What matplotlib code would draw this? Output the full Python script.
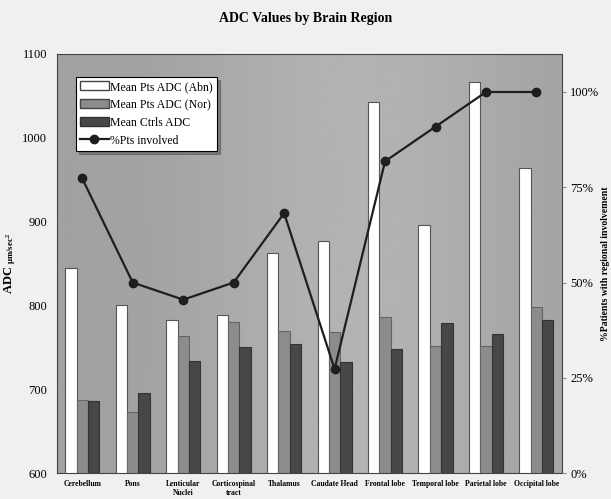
import numpy as np
import matplotlib
matplotlib.use("Agg")
import matplotlib.pyplot as plt
from matplotlib.patches import Patch
from matplotlib.lines import Line2D

# данные
regions = ["Cerebellum", "Pons", "Lenticular\nNuclei", "Corticospinal\ntract", "Thalamus",
           "Caudate Head", "Frontal lobe", "Temporal lobe", "Parietal lobe", "Occipital lobe"]
adc_abn = [845, 800, 782, 788, 863, 877, 1043, 896, 1066, 964]
adc_nor = [687, 673, 764, 780, 770, 768, 786, 751, 751, 798]
adc_ctrl = [686, 695, 734, 750, 754, 732, 748, 779, 766, 782]
pct_involved = [77.3, 50.0, 45.5, 50.0, 68.2, 27.3, 81.8, 90.9, 100.0, 100.0]

plt.rcParams['font.family'] = ['Liberation Serif', 'DejaVu Serif']
plt.rcParams['mathtext.fontset'] = 'stix'

fig = plt.figure(figsize=(6.11, 4.99), dpi=100, facecolor="#f0f0f0")
ax = fig.add_axes([0.0933, 0.052, 0.826, 0.840])

# серый фон области построения с лёгким градиентом
grad = np.linspace(0, 1, 256)
shade = 0.63 + 0.07 * np.exp(-((grad - 0.6) ** 2) / 0.1)
bg = np.tile(shade, (2, 1))
ax.imshow(bg, cmap="gray", vmin=0, vmax=1, aspect="auto", extent=(0, 1, 0, 1),
          transform=ax.transAxes, zorder=0)

x = np.arange(len(regions))
w = 0.225
ax.bar(x - w, adc_abn, w, color="white", edgecolor="#555555", linewidth=0.8, zorder=2)
ax.bar(x, adc_nor, w, color="#8c8c8c", edgecolor="#666666", linewidth=0.8, zorder=2)
ax.bar(x + w, adc_ctrl, w, color="#474747", edgecolor="#333333", linewidth=0.8, zorder=2)

ax.set_xlim(-0.5, len(regions) - 0.5)
ax.set_ylim(600, 1100)
ax.set_yticks([600, 700, 800, 900, 1000, 1100])
ax.set_xticks(x)
ax.set_xticklabels(regions, fontsize=5.5, fontweight="bold", linespacing=1.1)
ax.tick_params(axis="x", length=0, pad=5)
ax.tick_params(axis="y", length=0, labelsize=9, pad=7)
ax.set_ylabel(r"ADC $\mathregular{_{\mu m/sec^2}}$", fontsize=9, fontweight="bold", labelpad=3)
for s in ax.spines.values():
    s.set_color("#444444")
    s.set_linewidth(0.8)

ax2 = ax.twinx()
ax2.plot(x, pct_involved, color="#1e1e1e", lw=1.6, marker="o", ms=6, zorder=3)
ax2.set_ylim(0, 110)
ax2.set_yticks([0, 25, 50, 75, 100])
ax2.set_yticklabels(["0%", "25%", "50%", "75%", "100%"])
ax2.tick_params(axis="y", length=3, labelsize=9, pad=3, color="#888888")
ax2.set_ylabel("%Patients with regional involvement", fontsize=7, fontweight="bold",
               labelpad=1)
for s in ax2.spines.values():
    s.set_visible(False)

fig.suptitle("ADC Values by Brain Region", fontsize=10, fontweight="bold", y=0.975)

handles = [
    Patch(facecolor="white", edgecolor="#444444", label="Mean Pts ADC (Abn)"),
    Patch(facecolor="#8c8c8c", edgecolor="#444444", label="Mean Pts ADC (Nor)"),
    Patch(facecolor="#474747", edgecolor="#333333", label="Mean Ctrls ADC"),
    Line2D([0], [0], color="#1e1e1e", lw=1.6, marker="o", ms=6, label="%Pts involved"),
]
leg = ax2.legend(handles=handles, loc="upper left", bbox_to_anchor=(0.038, 0.945),
                 fontsize=8.5, frameon=True, fancybox=False, shadow=True,
                 handlelength=2.4, handleheight=0.8, borderpad=0.35, labelspacing=0.5,
                 handletextpad=0.15, borderaxespad=0)
leg.get_frame().set_edgecolor("black")
leg.get_frame().set_linewidth(0.8)
leg.get_frame().set_alpha(1)

fig.savefig("out.png", dpi=100, facecolor=fig.get_facecolor())
